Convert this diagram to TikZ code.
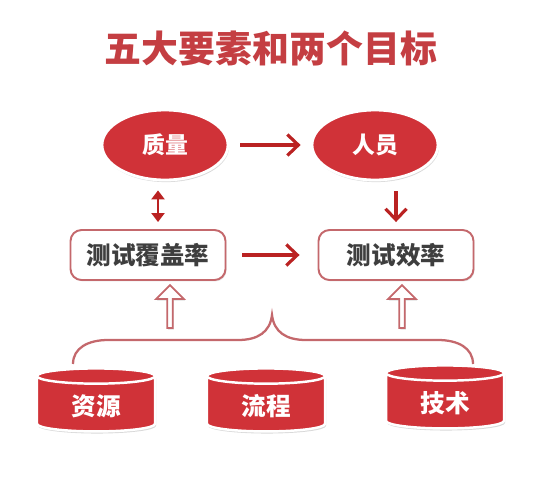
\documentclass[tikz,border=0pt]{standalone}
\usepackage{fontspec}
\newfontfamily\cjk{Noto Sans CJK SC}
\usetikzlibrary{shapes.geometric,shapes.arrows,shadows,arrows.meta}

\definecolor{topred}{RGB}{208,50,56}
\definecolor{titlered}{RGB}{196,62,66}
\definecolor{linered}{RGB}{186,34,34}
\definecolor{edgepink}{RGB}{196,104,108}
\definecolor{boxtext}{RGB}{62,62,62}

\begin{document}
\begin{tikzpicture}[
x=0.02cm, y=-0.02cm,
every node/.style={font=\cjk\bfseries},
goal/.style={
ellipse,
fill=topred,
draw=white,
line width=1.6pt,
text=white,
font=\cjk\bfseries\fontsize{13}{13}\selectfont,
minimum width=2.52cm,
minimum height=1.4cm,
drop shadow={shadow xshift=0.6pt,shadow yshift=-1.2pt,opacity=0.3}
},
measure/.style={
draw=edgepink,
line width=1.1pt,
rounded corners=0.22cm,
fill=white,
text=boxtext,
font=\cjk\bfseries\fontsize{14}{14}\selectfont,
minimum width=3.1cm,
minimum height=1cm,
drop shadow={shadow xshift=0.6pt,shadow yshift=-0.8pt,opacity=0.2}
},
base/.style={
cylinder,
shape border rotate=90,
aspect=0.25,
fill=topred,
draw=white,
line width=1.4pt,
text=white,
font=\cjk\bfseries\fontsize{14}{14}\selectfont,
minimum width=2.36cm,
minimum height=1.26cm,
drop shadow={shadow xshift=0.6pt,shadow yshift=-1.2pt,opacity=0.3}
},
upshape/.style={
single arrow,
rotate=90,
draw=edgepink,
line width=1pt,
fill=white,
inner sep=0pt,
minimum width=0.56cm,
minimum height=0.86cm,
single arrow head extend=0.07cm,
single arrow head indent=0pt,
drop shadow={shadow xshift=0.6pt,shadow yshift=-0.8pt,opacity=0.25}
},
flow/.style={
draw=linered,
line width=1.8pt,
-{Straight Barb[length=2.2mm,width=4.2mm]}
}
]

\useasboundingbox (0,0) rectangle (543,480);

\node[text=titlered,font=\cjk\bfseries\fontsize{21}{21}\selectfont] (title) at (271,48) {五大要素和两个目标};

\node[goal] (quality) at (165,145) {质量};
\node[goal] (people) at (375,145) {人员};

\node[measure] (coverage) at (148,255) {测试覆盖率};
\node[measure] (efficiency) at (396,255) {测试效率};

\node[base] (resource) at (96,406) {资源};
\node[base] (process) at (266,406) {流程};
\node[base] (tech) at (445,403) {技术};

\node[upshape] (upL) at (170,308) {};
\node[upshape] (upR) at (402,308) {};

\draw[flow,shorten <=0.22cm,shorten >=0.2cm] (quality)--(people);
\draw[flow,shorten <=0.32cm,shorten >=0.36cm] (coverage)--(efficiency);
\draw[flow,shorten <=0.2cm,shorten >=0.14cm] (people.south -| efficiency.north)--(efficiency.north);
\draw[draw=linered,line width=1.6pt,shorten <=0.18cm,shorten >=0.14cm,
{Triangle[length=1.8mm,width=2.6mm]}-{Triangle[length=1.8mm,width=2.6mm]}]
(quality.south -| 158,0)--(coverage.north -| 158,0);

% brace over the three bases
\coordinate (braceL) at (73,364);
\coordinate (braceR) at (473,364);
\coordinate (braceTip) at (272,315);
\draw[draw=edgepink,line width=1.3pt]
(braceL) .. controls (73,348) and (88,340) .. (108,340)
-- (238,340) .. controls (258,340) and (270,332) .. (braceTip)
.. controls (274,332) and (286,340) .. (306,340)
-- (438,340) .. controls (458,340) and (473,348) .. (braceR);

\end{tikzpicture}
\end{document}
